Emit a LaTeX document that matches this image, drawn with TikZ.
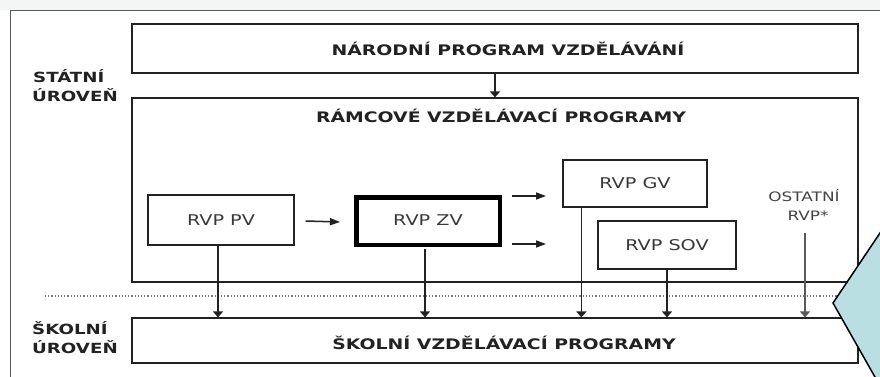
\documentclass[tikz,border=0pt]{standalone}
\usepackage{fontspec}
\setmainfont{DejaVu Sans}[FakeStretch=1.3]
\usetikzlibrary{arrows.meta,calc}
\definecolor{callout}{HTML}{B9DFE2}
\definecolor{topgray}{HTML}{F4F6F6}
\definecolor{ink}{HTML}{222222}
\definecolor{frame}{HTML}{5A5A5A}
\definecolor{dots}{HTML}{7A7A7A}
\begin{document}
\begin{tikzpicture}[x=1pt,y=-1pt,
  box/.style={draw=ink, line width=1.2pt, inner sep=0pt, fill=white},
  thickbox/.style={draw=black, line width=4.5pt, inner sep=0pt, fill=white},
  title/.style={font=\fontsize{14.5}{19}\selectfont\bfseries, text=ink, inner sep=0pt, anchor=base},
  plain/.style={font=\fontsize{14.8}{19}\selectfont, text=ink!90, inner sep=0pt, anchor=base},
  level/.style={font=\fontsize{14}{19}\selectfont\bfseries, text=ink, inner sep=0pt, anchor=base west},
  small/.style={font=\fontsize{13}{19}\selectfont, text=ink!85, inner sep=0pt, anchor=base},
  varr/.style={draw=ink, line width=1.5pt, -{Triangle[width=10pt,length=6pt]}},
  harr/.style={draw=ink, line width=1.5pt, -{Triangle[width=7pt,length=10pt]}},
]
\clip (0,0) rectangle (880,377);
\fill[white] (0,0) rectangle (880,377);
\fill[topgray] (0,0) rectangle (880,10);
\draw[frame, line width=1.5pt] (10.5,400) -- (10.5,10.5) -- (900,10.5);

% main boxes
\node[box, minimum width=726pt, minimum height=49pt] (nat) at (495,48.5) {};
\node[title] (natt) at (508,56) {NÁRODNÍ PROGRAM VZDĚLÁVÁNÍ};
\node[box, minimum width=726pt, minimum height=184pt] (rvp) at (495,190) {};
\node[title] (rvpt) at (501,123) {RÁMCOVÉ VZDĚLÁVACÍ PROGRAMY};
\node[box, minimum width=726pt, minimum height=45pt] (skol) at (495,340.5) {};
\node[title] (skolt) at (504,349) {ŠKOLNÍ VZDĚLÁVACÍ PROGRAMY};

% level labels
\node[level] (stat1) at (33,83) {STÁTNÍ};
\node[level] (stat2) at (32,102) {ÚROVEŇ};
\node[level] (skl1) at (32,334) {ŠKOLNÍ};
\node[level] (skl2) at (32,353) {ÚROVEŇ};

% RVP boxes
\node[box, minimum width=146pt, minimum height=50pt] (pv) at (221,220) {};
\node[plain] (pvt) at (221,225) {RVP PV};
\node[thickbox, minimum width=143.5pt, minimum height=47.5pt] (zv) at (428,221) {};
\node[plain] (zvt) at (428,225) {RVP ZV};
\node[box, minimum width=144pt, minimum height=47pt] (gv) at (635,183.5) {};
\node[plain] (gvt) at (635,188) {RVP GV};
\node[box, minimum width=138pt, minimum height=48pt] (sov) at (667,245) {};
\node[plain] (sovt) at (667,250) {RVP SOV};
\node[small] (ost1) at (804,201) {OSTATNÍ};
\node[small] (ost2) at (808,220) {RVP*};

% dotted divider
\draw[dots, line width=1.2pt, dash pattern=on 1.2pt off 2pt] (45,296) -- (845,296);

% arrows
\draw[varr] (nat) -- (rvp.north);
\draw[harr] ($(pv.east)+(11,1)$) -- ($(zv.west)+(-14,1)$);
\coordinate (zvA1) at ($(zv.east)+(10,-25)$);
\coordinate (zvA2) at ($(zv.east)+(44,-25)$);
\coordinate (zvB1) at ($(zv.east)+(10,23)$);
\coordinate (zvB2) at ($(zv.east)+(44,23)$);
\draw[harr] (zvA1) -- (zvA2);
\draw[harr] (zvB1) -- (zvB2);

\coordinate (pvo) at ($(pv.south)+(-3,0)$);
\coordinate (zvo) at ($(zv.south)+(-3,2)$);
\coordinate (gvo) at ($(gv.south west)+(19,0)$);
\coordinate (osto) at (805,233);
\draw[varr] (pvo) -- (pvo |- skol.north);
\draw[varr] (zvo) -- (zvo |- skol.north);
\draw[varr] (gvo) -- (gvo |- skol.north);
\draw[varr] (sov.south) -- (sov.south |- skol.north);
\draw[varr, draw=ink!75] (osto) -- (osto |- skol.north);

% callout
\draw[fill=callout, draw=black, line width=1.5pt] (833,303) -- (886,224) -- (900,224) -- (900,400) -- (888,400) -- cycle;
\end{tikzpicture}
\end{document}
